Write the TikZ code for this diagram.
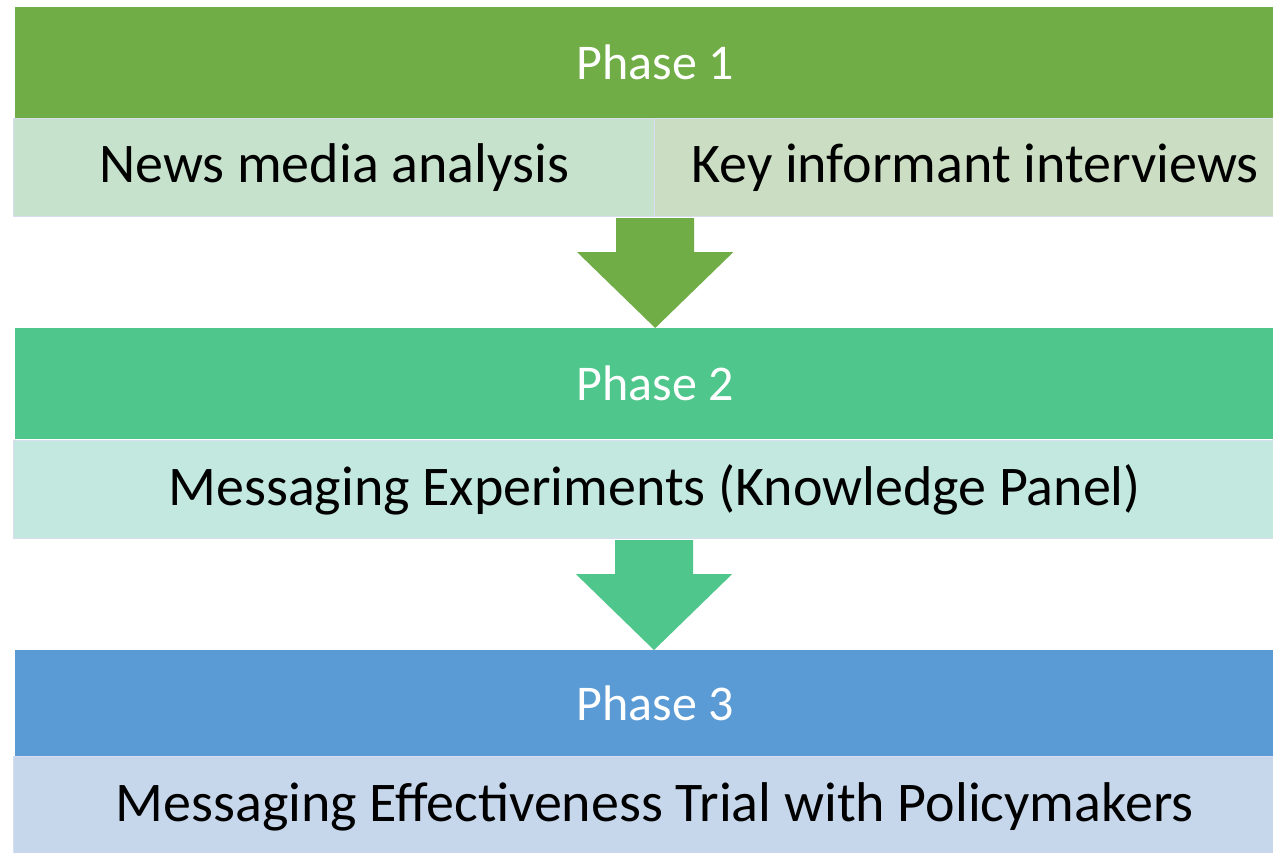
\documentclass[tikz,border=0pt]{standalone}
\usepackage{fontspec}
\setmainfont{Carlito}
\usetikzlibrary{calc}
\definecolor{pone}{HTML}{70AD47}
\definecolor{ptwo}{HTML}{4FC68B}
\definecolor{pthree}{HTML}{5B9BD5}
\definecolor{subA}{HTML}{C6E2CC}
\definecolor{subB}{HTML}{CBDEC3}
\definecolor{subC}{HTML}{C2E8DF}
\definecolor{subD}{HTML}{C6D6EB}
\definecolor{edge}{HTML}{D8DEF0}
\tikzset{
  header/.style={rectangle, inner sep=0pt, minimum width=1280pt, minimum height=111pt, text=white, font=\fontsize{50}{60}\selectfont, anchor=north west},
  subbox/.style={rectangle, draw=edge, line width=1.2pt, inner sep=0pt, minimum height=98pt, text=black, font=\fontsize{56}{67}\selectfont, anchor=north west},
}
\begin{document}
\begin{tikzpicture}[x=1pt,y=-1pt]
\useasboundingbox (0,0) rectangle (1273,852);
\clip (0,0) rectangle (1273,852);
\fill[white] (0,0) rectangle (1273,852);
% Phase 1
\node[header, fill=pone] (h1) at (15,7) {Phase 1};
\node[subbox, fill=subA, minimum width=641pt] (s1a) at (13,118) {News media analysis};
\node[subbox, fill=subB, minimum width=641pt] (s1b) at (654,118) {Key informant interviews};
% Phase 2
\node[header, fill=ptwo] (h2) at (15,328) {Phase 2};
\node[subbox, fill=subC, minimum width=1282pt] (s2) at (13,440) {Messaging Experiments (Knowledge Panel)};
% Phase 3
\node[header, fill=pthree, minimum height=106pt] (h3) at (15,650) {Phase 3};
\node[subbox, fill=subD, minimum width=1282pt, minimum height=100pt] (s3) at (13,756) {Messaging Effectiveness Trial with Policymakers};
% arrows
\coordinate (a1s) at ($(s1a.south east)+(0,1)$);
\coordinate (a1e) at (h2.north -| a1s);
\fill[pone] ($(a1s)+(-39,0)$) -- ($(a1s)+(39,0)$) -- ($(a1s)+(39,34)$) -- ($(a1s)+(78,34)$) -- (a1e) -- ($(a1s)+(-78,34)$) -- ($(a1s)+(-39,34)$) -- cycle;
\coordinate (a2s) at ($(s2.south west)+(641,1)$);
\coordinate (a2e) at (h3.north -| a2s);
\fill[ptwo] ($(a2s)+(-39,0)$) -- ($(a2s)+(39,0)$) -- ($(a2s)+(39,34)$) -- ($(a2s)+(78,34)$) -- (a2e) -- ($(a2s)+(-78,34)$) -- ($(a2s)+(-39,34)$) -- cycle;
\end{tikzpicture}
\end{document}
